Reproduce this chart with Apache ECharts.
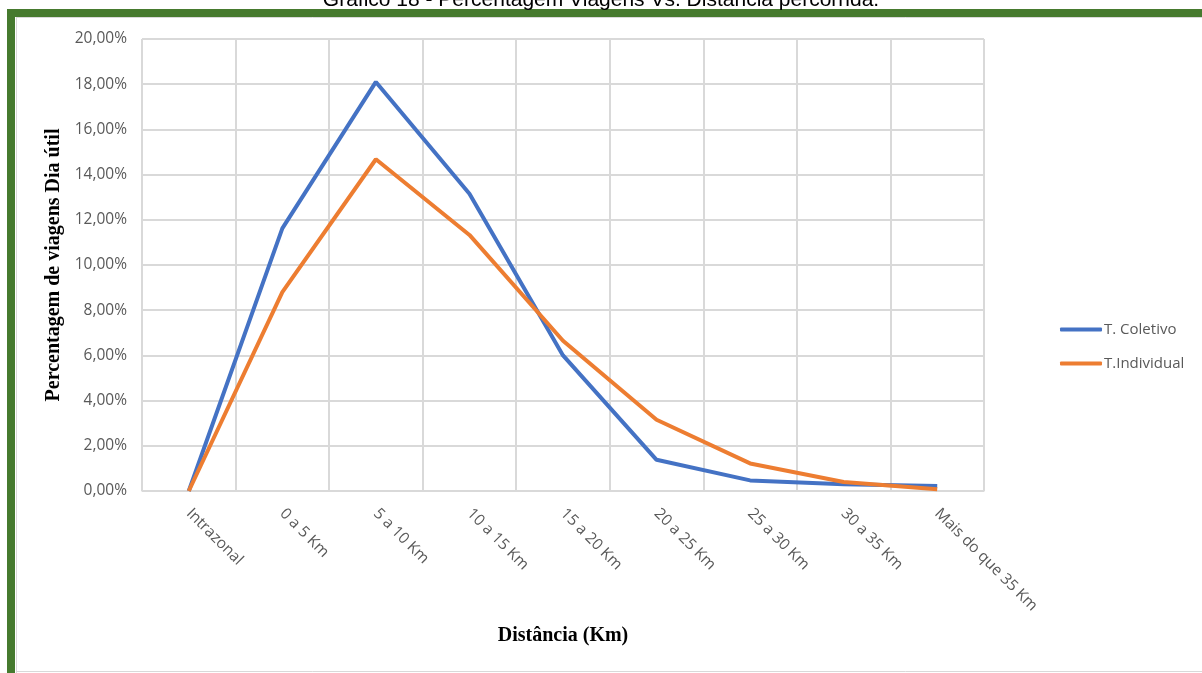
<!DOCTYPE html>
<html>
<head>
<meta charset="utf-8">
<script src="https://cdn.jsdelivr.net/npm/echarts@6/dist/echarts.min.js"></script>
<style>
html,body{margin:0;padding:0;background:#fff;}
#chart{width:1202px;height:673px;}
</style>
</head>
<body>
<div id="chart"></div>
<script>
var categories = ["Intrazonal","0 a 5 Km","5 a 10 Km","10 a 15 Km","15 a 20 Km","20 a 25 Km","25 a 30 Km","30 a 35 Km","Mais do que 35 Km"];
var coletivo = [0, 11.62, 18.1, 13.15, 6.0, 1.38, 0.47, 0.3, 0.22];
var individual = [0, 8.8, 14.68, 11.33, 6.65, 3.15, 1.22, 0.4, 0.08];
var seriesNames = ["T. Coletivo", "T.Individual"];
var titleText = "Gráfico 18 - Percentagem Viagens Vs. Distância percorrida.";
var yTitle = "Percentagem de viagens Dia útil";
var xTitle = "Distância (Km)";

var chart = echarts.init(document.getElementById('chart'), null, {renderer:'canvas'});
var green = '#467A2E';
chart.setOption({
  animation:false,
  backgroundColor:'#fff',
  title:{
    text:titleText, left:'center', top:-15,
    textStyle:{fontFamily:'Liberation Sans', fontSize:21, fontWeight:'normal', color:'#000'}
  },
  graphic:[
    {type:'rect', shape:{x:7,y:9,width:1195,height:8}, style:{fill:green}, silent:true},
    {type:'rect', shape:{x:7,y:9,width:8,height:664}, style:{fill:green}, silent:true},
    {type:'line', shape:{x1:16,y1:17.5,x2:1202,y2:17.5}, style:{stroke:'#d9d9d9',lineWidth:1}, silent:true},
    {type:'line', shape:{x1:16.5,y1:17,x2:16.5,y2:673}, style:{stroke:'#d9d9d9',lineWidth:1}, silent:true},
    {type:'line', shape:{x1:16,y1:671.5,x2:1202,y2:671.5}, style:{stroke:'#d9d9d9',lineWidth:1}, silent:true}
  ],
  grid:{left:142, right:218, top:39, bottom:182, containLabel:false},
  legend:{
    orient:'vertical', left:1055, top:317, itemWidth:42, itemHeight:4, itemGap:19,
    icon:'roundRect',
    textStyle:{fontFamily:'Open Sans', fontSize:15, color:'#595959', padding:[0,0,0,-3]},
    data:seriesNames
  },
  xAxis:{
    type:'category', data:categories, boundaryGap:true,
    name:xTitle, nameLocation:'middle', nameGap:135,
    nameTextStyle:{fontFamily:'Liberation Serif', fontSize:20, fontWeight:'bold', color:'#000'},
    axisLine:{show:true, lineStyle:{color:'#d9d9d9', width:1}},
    axisTick:{show:false},
    axisLabel:{rotate:-45, interval:0, margin:20, fontFamily:'Open Sans', fontSize:15.5, color:'#595959'},
    splitLine:{show:true, lineStyle:{color:'#d9d9d9', width:2}}
  },
  yAxis:{
    type:'value', min:0, max:20, interval:2,
    name:yTitle, nameLocation:'middle', nameGap:72, nameRotate:90,
    nameTextStyle:{fontFamily:'Liberation Serif', fontSize:20, fontWeight:'bold', color:'#000'},
    axisLine:{show:false}, axisTick:{show:false},
    axisLabel:{margin:15, fontFamily:'Open Sans', fontSize:15.5, color:'#595959',
      formatter:function(v){return v.toFixed(2).replace('.',',')+'%';}},
    splitLine:{show:true, lineStyle:{color:'#d9d9d9', width:2}}
  },
  series:[
    {name:seriesNames[0], type:'line', data:coletivo, symbol:'none', lineStyle:{color:'#4472C4', width:4}, itemStyle:{color:'#4472C4'}},
    {name:seriesNames[1], type:'line', data:individual, symbol:'none', lineStyle:{color:'#ED7D31', width:4}, itemStyle:{color:'#ED7D31'}}
  ]
});
</script>
</body>
</html>
